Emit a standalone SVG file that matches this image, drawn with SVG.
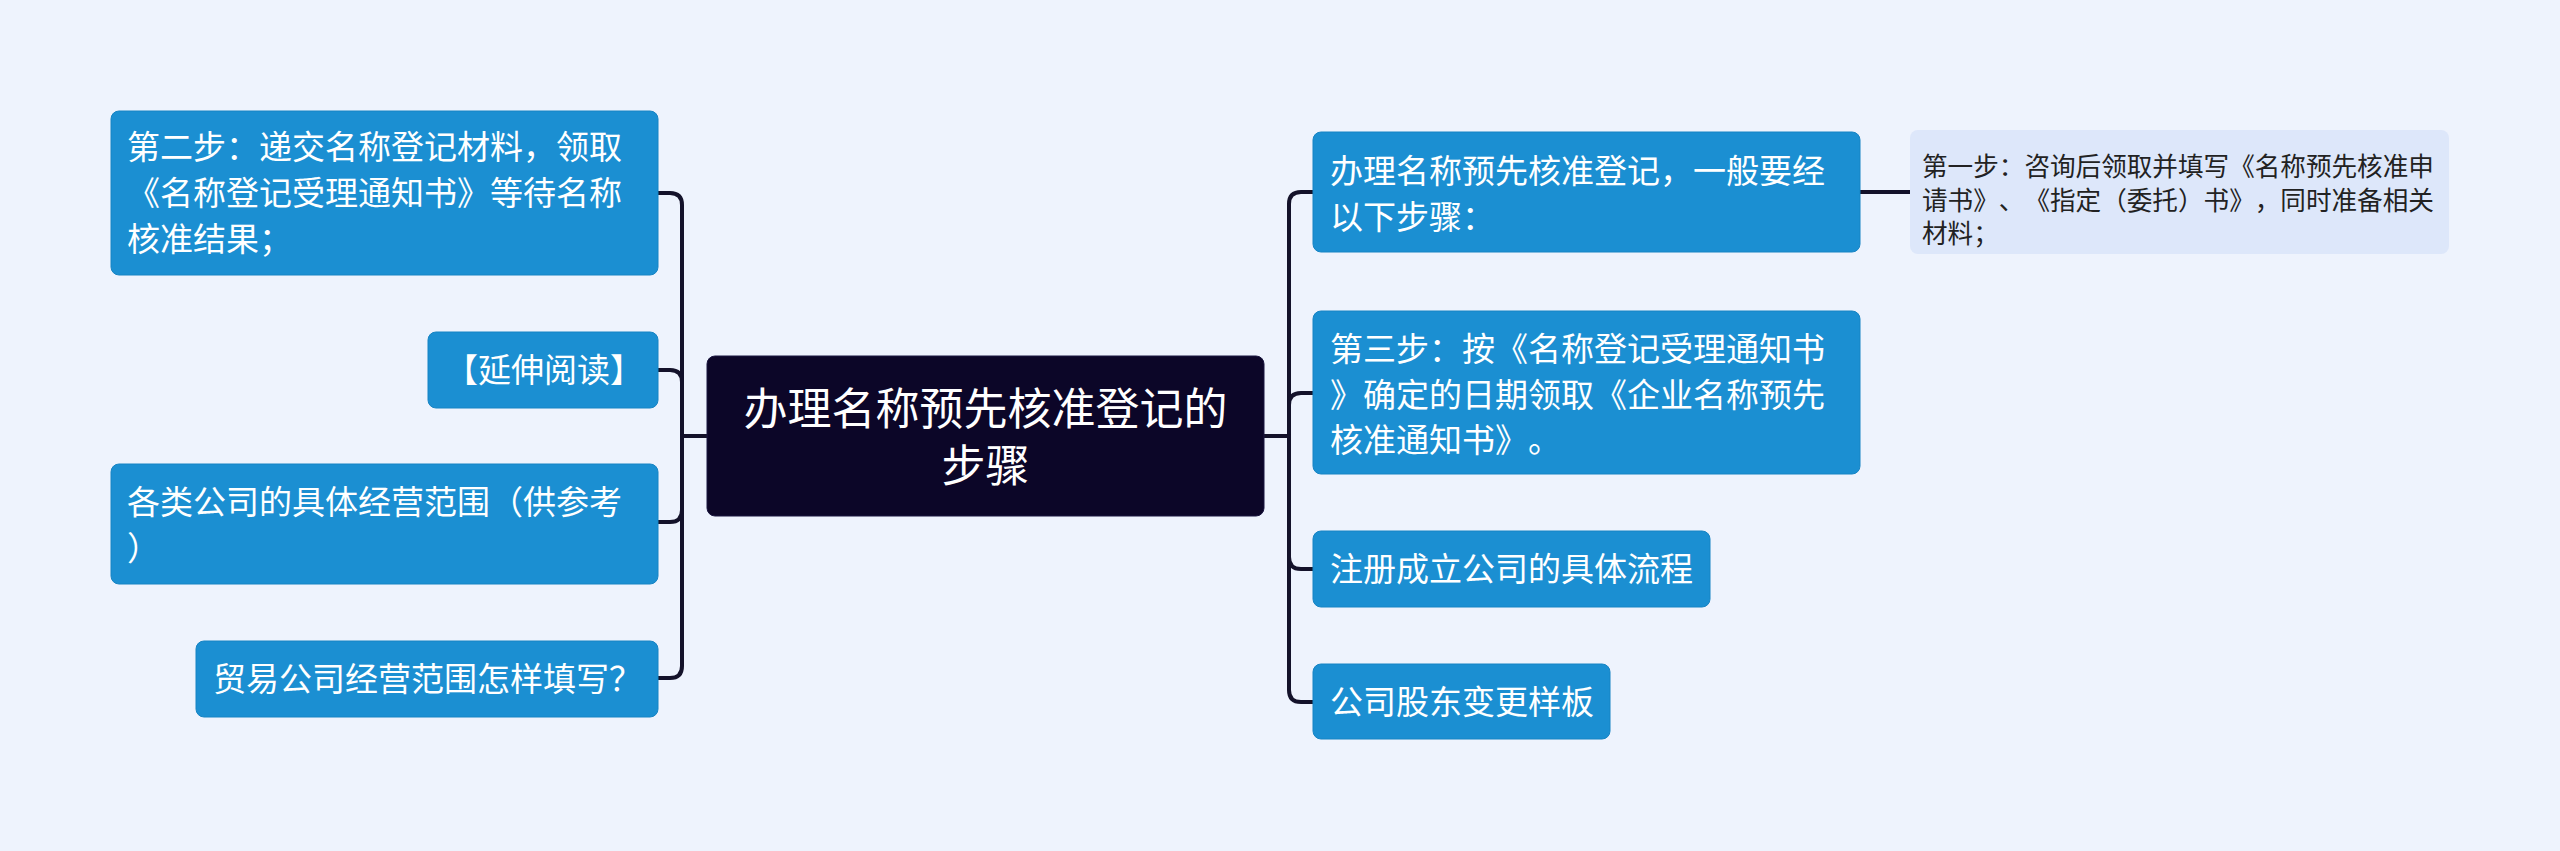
<svg xmlns="http://www.w3.org/2000/svg" width="2560" height="851" viewBox="0 0 2560 851">
<style>
.bg{fill:#eef3fd}
text{text-spacing-trim:space-all;font-kerning:none}
.node rect{fill:#1b8fd2;stroke:#1784c4;stroke-width:1}
.node text{fill:#ffffff;font-family:"Noto Sans CJK SC","Noto Sans",sans-serif;font-size:33px}
.center rect{fill:#0c0628;stroke:#1a1640;stroke-width:1}
.center text{fill:#ffffff;font-family:"Noto Sans CJK SC","Noto Sans",sans-serif;font-size:44px;text-anchor:middle}
.child rect{fill:#dde7fa}
.child text{fill:#222222;font-family:"Noto Sans CJK SC","Noto Sans",sans-serif;font-size:25.6px}
.conn path{fill:none;stroke:#14122a;stroke-width:4;stroke-linecap:round}
</style>
<rect class="bg" x="0" y="0" width="2560" height="851"/>
<g id="connectors" class="conn">
<path d="M707,436 H682"/>
<path d="M682,436 V205 Q682,193 670,193 H658"/>
<path d="M682,436 V382 Q682,370 670,370 H658"/>
<path d="M682,436 V510 Q682,522 670,522 H658"/>
<path d="M682,436 V666 Q682,678 670,678 H658"/>
<path d="M1264,436 H1289"/>
<path d="M1289,436 V204 Q1289,192 1301,192 H1313"/>
<path d="M1289,436 V405 Q1289,393 1301,393 H1313"/>
<path d="M1289,436 V557 Q1289,569 1301,569 H1313"/>
<path d="M1289,436 V690 Q1289,702 1301,702 H1313"/>
<path d="M1860,192 H1910"/>
</g>
<g id="center" class="center">
<rect x="707" y="356" width="557" height="160" rx="8"/>
<text x="985.5" y="425">办理名称预先核准登记的<tspan x="985.5" y="482">步骤</tspan></text>
</g>
<g id="l1" class="node">
<rect x="111" y="111" width="547" height="164" rx="8"/>
<text x="127" y="159">第二步：递交名称登记材料，领取<tspan x="127" y="205">《名称登记受理通知书》等待名称</tspan><tspan x="127" y="251">核准结果；</tspan></text>
</g>
<g id="l2" class="node">
<rect x="428" y="332" width="230" height="76" rx="8"/>
<text x="445" y="382">【延伸阅读】</text>
</g>
<g id="l3" class="node">
<rect x="111" y="464" width="547" height="120" rx="8"/>
<text x="127" y="514">各类公司的具体经营范围（供参考<tspan x="127" y="560">）</tspan></text>
</g>
<g id="l4" class="node">
<rect x="196" y="641" width="462" height="76" rx="8"/>
<text x="213" y="691">贸易公司经营范围怎样填写？</text>
</g>
<g id="r1" class="node">
<rect x="1313" y="132" width="547" height="120" rx="8"/>
<text x="1330" y="183">办理名称预先核准登记，一般要经<tspan x="1330" y="229">以下步骤：</tspan></text>
</g>
<g id="r1c" class="child">
<rect x="1910" y="130" width="539" height="124" rx="8"/>
<text x="1922" y="176">第一步：咨询后领取并填写《名称预先核准申<tspan x="1922" y="210">请书》、《指定（委托）书》，同时准备相关</tspan><tspan x="1922" y="243">材料；</tspan></text>
</g>
<g id="r2" class="node">
<rect x="1313" y="311" width="547" height="163" rx="8"/>
<text x="1330" y="361">第三步：按《名称登记受理通知书<tspan x="1330" y="407">》确定的日期领取《企业名称预先</tspan><tspan x="1330" y="452">核准通知书》。</tspan></text>
</g>
<g id="r3" class="node">
<rect x="1313" y="531" width="397" height="76" rx="8"/>
<text x="1330" y="581">注册成立公司的具体流程</text>
</g>
<g id="r4" class="node">
<rect x="1313" y="664" width="297" height="75" rx="8"/>
<text x="1330" y="714">公司股东变更样板</text>
</g>
</svg>
